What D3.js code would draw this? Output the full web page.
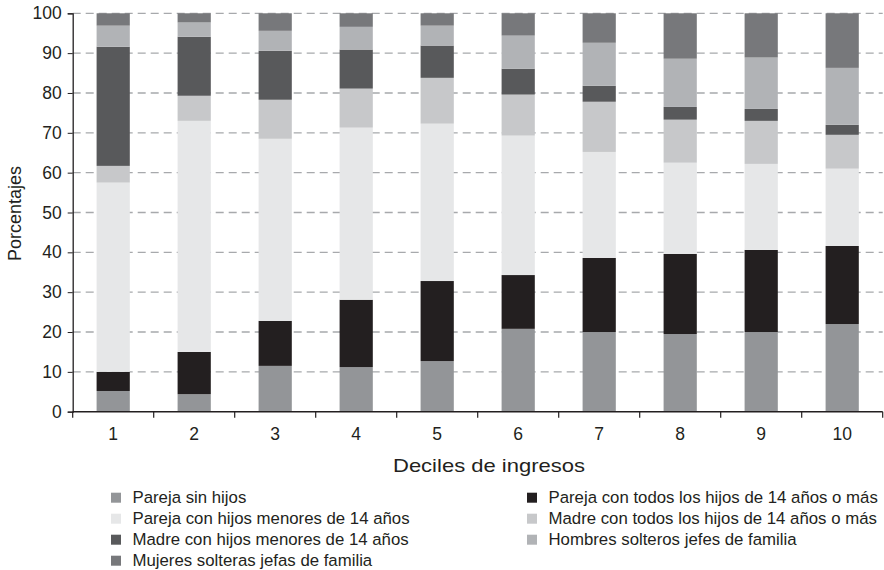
<!DOCTYPE html>
<html><head><meta charset="utf-8">
<script src="https://cdn.jsdelivr.net/npm/d3@7"></script>
<style>
body{margin:0;background:#fff;}
text{font-family:"Liberation Sans",Arial,Helvetica,sans-serif;fill:#231f20;}
</style></head>
<body><svg id="c" width="884" height="570"></svg>
<script>
const deciles = ["1","2","3","4","5","6","7","8","9","10"];
const seriesNames = [
  "Pareja sin hijos",
  "Pareja con todos los hijos de 14 años o más",
  "Pareja con hijos menores de 14 años",
  "Madre con todos los hijos de 14 años o más",
  "Madre con hijos menores de 14 años",
  "Hombres solteros jefes de familia",
  "Mujeres solteras jefas de familia"
];
const parejaSinHijos      = [5.2, 4.4, 11.5, 11.2, 12.7, 20.8, 20.0, 19.5, 20.0, 22.0];
const parejaHijos14Mas    = [4.8, 10.6, 11.3, 16.9, 20.1, 13.5, 18.6, 20.1, 20.6, 19.6];
const parejaHijosMenores  = [47.5, 58.0, 45.7, 43.2, 39.5, 35.0, 26.6, 22.9, 21.6, 19.4];
const madreHijos14Mas     = [4.2, 6.3, 9.8, 9.8, 11.5, 10.3, 12.6, 10.8, 10.8, 8.5];
const madreHijosMenores   = [29.9, 14.8, 12.3, 9.8, 8.1, 6.5, 4.0, 3.2, 3.0, 2.5];
const hombresSolteros     = [5.3, 3.6, 5.0, 5.7, 5.0, 8.3, 10.8, 12.1, 12.9, 14.3];
const mujeresSolteras     = [3.1, 2.3, 4.4, 3.4, 3.1, 5.6, 7.4, 11.4, 11.1, 13.7];
const yTicks = [0,10,20,30,40,50,60,70,80,90,100];
const colors = ["#939598","#231f20","#e6e7e8","#c7c8ca","#58595b","#b1b3b6","#77787b"];

const seriesValues = [parejaSinHijos, parejaHijos14Mas, parejaHijosMenores, madreHijos14Mas, madreHijosMenores, hombresSolteros, mujeresSolteras];
const table = deciles.map((d,i)=>{const o={decil:d}; seriesNames.forEach((s,j)=>o[s]=seriesValues[j][i]); return o;});

const svg = d3.select("#c");
const L=72.7, R=882.7, T=13.3, B=411.7;
const x = d3.scaleBand().domain(deciles).range([L,R]).paddingInner(0.59).paddingOuter(0.295);
const y = d3.scaleLinear().domain([0,100]).range([B,T]);

// grid
svg.append("g").selectAll("line").data(yTicks.filter(t=>t>0)).join("line")
  .attr("x1",L).attr("x2",R).attr("y1",d=>y(d)).attr("y2",d=>y(d))
  .attr("stroke","#a7a9ac").attr("stroke-width",1.3).attr("stroke-dasharray","8,5");

// bars
const stack = d3.stack().keys(seriesNames)(table);
svg.append("g").selectAll("g").data(stack).join("g")
  .attr("fill",(d,i)=>colors[i])
  .selectAll("rect").data(d=>d).join("rect")
  .attr("x",d=>x(d.data.decil)).attr("width",x.bandwidth())
  .attr("y",d=>y(d[1])).attr("height",d=>y(d[0])-y(d[1]));

// y axis
const ya = svg.append("g").attr("transform",`translate(${L},0)`)
  .call(d3.axisLeft(y).tickValues(yTicks).tickSize(5).tickPadding(6));
ya.select(".domain").attr("stroke","#231f20").attr("stroke-width",1.3);
ya.selectAll(".tick line").attr("stroke","#231f20");
ya.selectAll("text").attr("font-size",17.5).attr("font-family","Liberation Sans, Arial, sans-serif").attr("fill","#231f20");

// x axis
const step = x.step();
const xa = svg.append("g").attr("transform",`translate(0,${B})`);
xa.append("line").attr("x1",L).attr("x2",R).attr("stroke","#231f20").attr("stroke-width",1.5);
const bounds = d3.range(deciles.length+1).map(i=>L+i*step);
xa.selectAll(".tk").data(bounds).join("line").attr("class","tk")
  .attr("x1",d=>d).attr("x2",d=>d).attr("y1",0).attr("y2",6).attr("stroke","#231f20").attr("stroke-width",1.2);
xa.selectAll(".lb").data(deciles).join("text").attr("class","lb")
  .attr("x",d=>x(d)+x.bandwidth()/2).attr("y",28).attr("text-anchor","middle")
  .attr("font-size",17.5).text(d=>d);

svg.append("text").attr("x",489).attr("y",472).attr("text-anchor","middle")
  .attr("font-size",19).attr("textLength",192).attr("lengthAdjust","spacingAndGlyphs")
  .text("Deciles de ingresos");
svg.append("text").attr("transform",`translate(20.5,213.5) rotate(-90)`)
  .attr("text-anchor","middle").attr("font-size",18).text("Porcentajes");

// legend
const legOrder = [0,2,4,6,1,3,5];
const leg = svg.append("g");
legOrder.forEach((si,k)=>{
  const col = k<4?0:1, row = k<4?k:k-4;
  const gx = col===0?111:527, gy = 503.3 + row*21;
  leg.append("rect").attr("x",gx).attr("y",gy-10.6).attr("width",10).attr("height",10).attr("fill",colors[si]);
  leg.append("text").attr("x",gx+21.5).attr("y",gy).attr("font-size",16.8).text(seriesNames[si]);
});
</script></body></html>
